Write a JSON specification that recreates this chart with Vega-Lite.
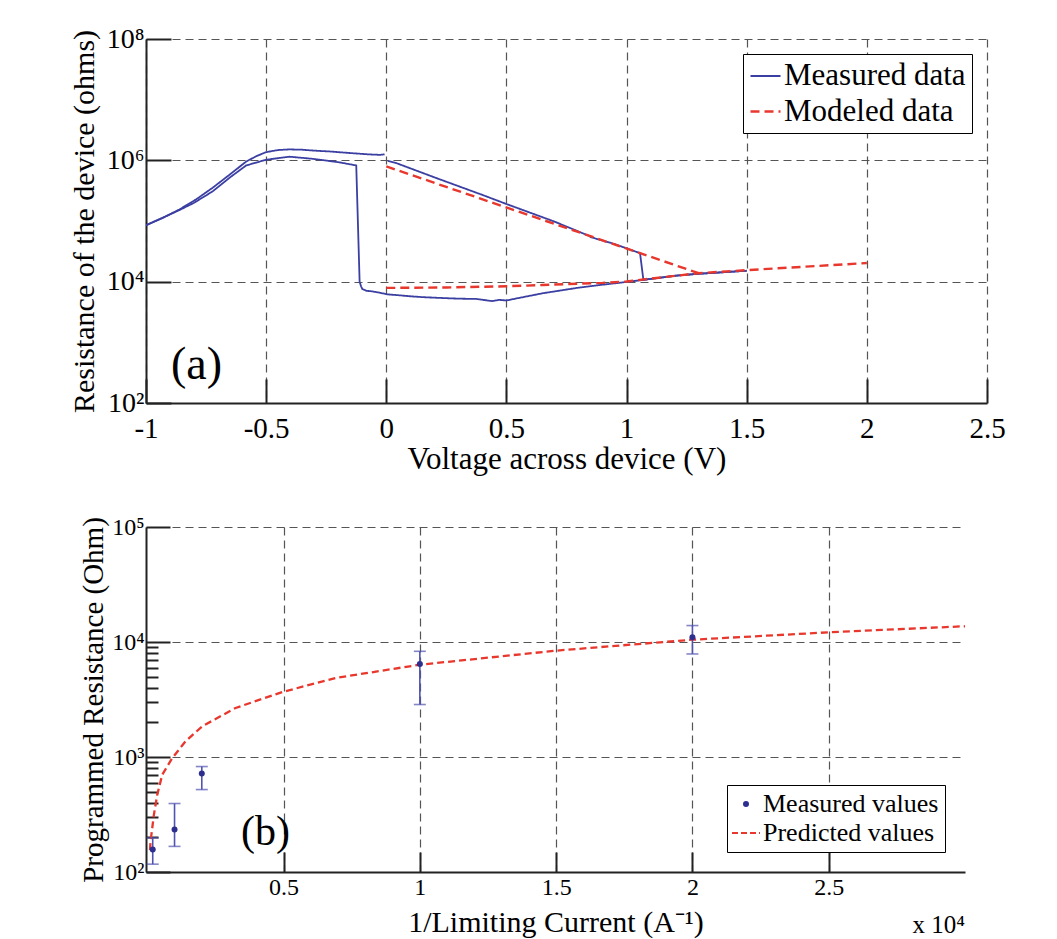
{
  "$schema": "https://vega.github.io/schema/vega-lite/v6.json",
  "background": "white",
  "padding": {"left": 69, "top": 25, "right": 5, "bottom": 5},
  "spacing": 41,
  "config": {
    "font": "Liberation Serif",
    "view": {"stroke": null},
    "axis": {
      "labelFont": "Liberation Serif",
      "titleFont": "Liberation Serif",
      "labelColor": "black",
      "titleColor": "black",
      "titleFontWeight": "normal",
      "domainColor": "#222222",
      "domainWidth": 2,
      "tickColor": "#222222",
      "tickWidth": 2,
      "grid": true,
      "gridColor": "#555555",
      "gridDash": [8, 5],
      "gridWidth": 1.2,
      "labelOverlap": false,
      "labelFlush": false
    },
    "legend": {
      "title": null,
      "labelFont": "Liberation Serif",
      "strokeColor": "black",
      "fillColor": "white",
      "labelColor": "black",
      "labelLimit": 400
    },
    "text": {"font": "Liberation Serif"}
  },
  "resolve": {
    "scale": {"color": "independent", "strokeDash": "independent", "strokeWidth": "independent"},
    "legend": {"color": "independent", "strokeDash": "independent"}
  },
  "vconcat": [
    {
      "width": 841,
      "height": 364,
      "layer": [
        {
          "data": {
            "values": [
              {"s": "Measured data", "b": "up", "i": 1, "v": 0.006, "r": 977200},
              {"s": "Measured data", "b": "up", "i": 2, "v": 0.042, "r": 899500},
              {"s": "Measured data", "b": "up", "i": 3, "v": 0.2, "r": 524800},
              {"s": "Measured data", "b": "up", "i": 4, "v": 0.4, "r": 269200},
              {"s": "Measured data", "b": "up", "i": 5, "v": 0.5, "r": 190500},
              {"s": "Measured data", "b": "up", "i": 6, "v": 0.6, "r": 136500},
              {"s": "Measured data", "b": "up", "i": 7, "v": 0.7, "r": 97720},
              {"s": "Measured data", "b": "up", "i": 8, "v": 0.847, "r": 56230},
              {"s": "Measured data", "b": "up", "i": 9, "v": 0.85, "r": 54330},
              {"s": "Measured data", "b": "up", "i": 10, "v": 0.95, "r": 41690},
              {"s": "Measured data", "b": "up", "i": 11, "v": 1.056, "r": 29510},
              {"s": "Measured data", "b": "up", "i": 12, "v": 1.07, "r": 10720},
              {"s": "Measured data", "b": "up", "i": 13, "v": 1.208, "r": 12590},
              {"s": "Measured data", "b": "up", "i": 14, "v": 1.3, "r": 13490},
              {"s": "Measured data", "b": "up", "i": 15, "v": 1.5, "r": 15140},
              {"s": "Measured data", "b": "back", "i": 1, "v": 1.5, "r": 15140},
              {"s": "Measured data", "b": "back", "i": 2, "v": 1.3, "r": 13490},
              {"s": "Measured data", "b": "back", "i": 3, "v": 1.208, "r": 12590},
              {"s": "Measured data", "b": "back", "i": 4, "v": 1.07, "r": 10720},
              {"s": "Measured data", "b": "back", "i": 5, "v": 1.0, "r": 9886},
              {"s": "Measured data", "b": "back", "i": 6, "v": 0.9, "r": 8913},
              {"s": "Measured data", "b": "back", "i": 7, "v": 0.792, "r": 7870},
              {"s": "Measured data", "b": "back", "i": 8, "v": 0.653, "r": 6457},
              {"s": "Measured data", "b": "back", "i": 9, "v": 0.55, "r": 5370},
              {"s": "Measured data", "b": "back", "i": 10, "v": 0.5, "r": 4898},
              {"s": "Measured data", "b": "back", "i": 11, "v": 0.47, "r": 5012},
              {"s": "Measured data", "b": "back", "i": 12, "v": 0.44, "r": 4786},
              {"s": "Measured data", "b": "back", "i": 13, "v": 0.375, "r": 5188},
              {"s": "Measured data", "b": "back", "i": 14, "v": 0.3, "r": 5248},
              {"s": "Measured data", "b": "back", "i": 15, "v": 0.236, "r": 5370},
              {"s": "Measured data", "b": "back", "i": 16, "v": 0.15, "r": 5559},
              {"s": "Measured data", "b": "back", "i": 17, "v": 0.097, "r": 5754},
              {"s": "Measured data", "b": "back", "i": 18, "v": 0.04, "r": 6026},
              {"s": "Measured data", "b": "back", "i": 19, "v": 0.006, "r": 6166},
              {"s": "Measured data", "b": "back", "i": 20, "v": -0.03, "r": 6607},
              {"s": "Measured data", "b": "back", "i": 21, "v": -0.06, "r": 6918},
              {"s": "Measured data", "b": "back", "i": 22, "v": -0.083, "r": 7079},
              {"s": "Measured data", "b": "back", "i": 23, "v": -0.1, "r": 7586},
              {"s": "Measured data", "b": "back", "i": 24, "v": -0.105, "r": 8395},
              {"s": "Measured data", "b": "back", "i": 25, "v": -0.111, "r": 10000},
              {"s": "Measured data", "b": "back", "i": 26, "v": -0.125, "r": 824100},
              {"s": "Measured data", "b": "back", "i": 27, "v": -0.2, "r": 933300},
              {"s": "Measured data", "b": "back", "i": 28, "v": -0.306, "r": 1059000},
              {"s": "Measured data", "b": "back", "i": 29, "v": -0.403, "r": 1148000},
              {"s": "Measured data", "b": "back", "i": 30, "v": -0.5, "r": 1023000},
              {"s": "Measured data", "b": "back", "i": 31, "v": -0.583, "r": 824100},
              {"s": "Measured data", "b": "back", "i": 32, "v": -0.65, "r": 524800},
              {"s": "Measured data", "b": "back", "i": 33, "v": -0.722, "r": 309000},
              {"s": "Measured data", "b": "back", "i": 34, "v": -0.8, "r": 199500},
              {"s": "Measured data", "b": "back", "i": 35, "v": -0.861, "r": 151400},
              {"s": "Measured data", "b": "back", "i": 36, "v": -1.0, "r": 85100},
              {"s": "Measured data", "b": "ret", "i": 1, "v": -1.0, "r": 85100},
              {"s": "Measured data", "b": "ret", "i": 2, "v": -0.93, "r": 112200},
              {"s": "Measured data", "b": "ret", "i": 3, "v": -0.861, "r": 154900},
              {"s": "Measured data", "b": "ret", "i": 4, "v": -0.79, "r": 229100},
              {"s": "Measured data", "b": "ret", "i": 5, "v": -0.722, "r": 354800},
              {"s": "Measured data", "b": "ret", "i": 6, "v": -0.65, "r": 588800},
              {"s": "Measured data", "b": "ret", "i": 7, "v": -0.583, "r": 955000},
              {"s": "Measured data", "b": "ret", "i": 8, "v": -0.54, "r": 1175000},
              {"s": "Measured data", "b": "ret", "i": 9, "v": -0.5, "r": 1365000},
              {"s": "Measured data", "b": "ret", "i": 10, "v": -0.45, "r": 1479000},
              {"s": "Measured data", "b": "ret", "i": 11, "v": -0.403, "r": 1514000},
              {"s": "Measured data", "b": "ret", "i": 12, "v": -0.35, "r": 1496000},
              {"s": "Measured data", "b": "ret", "i": 13, "v": -0.3, "r": 1445000},
              {"s": "Measured data", "b": "ret", "i": 14, "v": -0.236, "r": 1400000},
              {"s": "Measured data", "b": "ret", "i": 15, "v": -0.15, "r": 1318000},
              {"s": "Measured data", "b": "ret", "i": 16, "v": -0.08, "r": 1259000},
              {"s": "Measured data", "b": "ret", "i": 17, "v": -0.028, "r": 1230000},
              {"s": "Measured data", "b": "ret", "i": 18, "v": -0.015, "r": 1245000},
              {"s": "Measured data", "b": "ret", "i": 19, "v": -0.007, "r": 1259000},
              {"s": "Modeled data", "b": "m1", "i": 1, "v": 0.0, "r": 794300},
              {"s": "Modeled data", "b": "m1", "i": 2, "v": 1.3, "r": 13800},
              {"s": "Modeled data", "b": "m2", "i": 1, "v": 0.0, "r": 7889},
              {"s": "Modeled data", "b": "m2", "i": 2, "v": 0.25, "r": 8035},
              {"s": "Modeled data", "b": "m2", "i": 3, "v": 0.5, "r": 8395},
              {"s": "Modeled data", "b": "m2", "i": 4, "v": 0.65, "r": 8810},
              {"s": "Modeled data", "b": "m2", "i": 5, "v": 0.8, "r": 9268},
              {"s": "Modeled data", "b": "m2", "i": 6, "v": 0.9, "r": 9550},
              {"s": "Modeled data", "b": "m2", "i": 7, "v": 1.0, "r": 10070},
              {"s": "Modeled data", "b": "m2", "i": 8, "v": 1.1, "r": 11220},
              {"s": "Modeled data", "b": "m2", "i": 9, "v": 1.3, "r": 13800},
              {"s": "Modeled data", "b": "m2", "i": 10, "v": 1.5, "r": 15490},
              {"s": "Modeled data", "b": "m2", "i": 11, "v": 2.0, "r": 20280}
            ]
          },
          "mark": {"type": "line", "clip": true},
          "encoding": {
            "x": {
              "field": "v",
              "type": "quantitative",
              "scale": {"domain": [-1, 2.5], "nice": false, "zero": false},
              "axis": {
                "title": "Voltage across device (V)",
                "values": [-1, -0.5, 0, 0.5, 1, 1.5, 2, 2.5],
                "labelExpr": "'' + datum.value",
                "labelFontSize": 29,
                "titleFontSize": 31,
                "tickSize": -24,
                "labelPadding": 35,
                "titlePadding": 1
              }
            },
            "y": {
              "field": "r",
              "type": "quantitative",
              "scale": {"type": "log", "domain": [100, 100000000], "nice": false},
              "axis": {
                "title": "Resistance of the device (ohms)",
                "values": [100, 10000, 1000000, 100000000],
                "labelExpr": "'10' + ['⁰','¹','²','³','⁴','⁵','⁶','⁷','⁸'][round(log(datum.value) / LN10)]",
                "labelFontSize": 28,
                "titleFontSize": 30,
                "tickSize": -25,
                "labelPadding": 27,
                "titlePadding": 7
              }
            },
            "detail": {"field": "b"},
            "order": {"field": "i", "type": "quantitative"},
            "color": {
              "field": "s",
              "type": "nominal",
              "scale": {"domain": ["Measured data", "Modeled data"], "range": ["#3b3fa2", "#e8372d"]},
              "legend": {
                "orient": "top-right",
                "offset": 15,
                "padding": 6,
                "symbolType": "stroke",
                "symbolSize": 900,
                "symbolStrokeWidth": 2,
                "labelFontSize": 31,
                "labelOffset": 2,
                "rowPadding": 4
              }
            },
            "strokeDash": {
              "field": "s",
              "type": "nominal",
              "scale": {"domain": ["Measured data", "Modeled data"], "range": [[1, 0], [9, 5]]},
              "legend": {
                "orient": "top-right",
                "offset": 15,
                "padding": 6,
                "symbolType": "stroke",
                "symbolSize": 900,
                "symbolStrokeWidth": 2,
                "labelFontSize": 31,
                "labelOffset": 2,
                "rowPadding": 4
              }
            },
            "strokeWidth": {
              "field": "s",
              "type": "nominal",
              "scale": {"domain": ["Measured data", "Modeled data"], "range": [1.8, 2.4]},
              "legend": null
            }
          }
        },
        {
          "data": {"values": [{"label": "(a)", "v": -0.79, "r": 427}]},
          "mark": {"type": "text", "fontSize": 46, "align": "center", "baseline": "middle", "color": "black"},
          "encoding": {
            "x": {"field": "v", "type": "quantitative"},
            "y": {"field": "r", "type": "quantitative"},
            "text": {"field": "label"}
          }
        }
      ]
    },
    {
      "width": 819,
      "height": 345,
      "resolve": {"axis": {"y": "independent"}},
      "layer": [
        {
          "data": {
            "values": [
              {"s": "Predicted values", "x": 100, "r": 155},
              {"s": "Predicted values", "x": 121, "r": 185},
              {"s": "Predicted values", "x": 243, "r": 315},
              {"s": "Predicted values", "x": 367, "r": 471},
              {"s": "Predicted values", "x": 550, "r": 703},
              {"s": "Predicted values", "x": 917, "r": 980},
              {"s": "Predicted values", "x": 1405, "r": 1370},
              {"s": "Predicted values", "x": 2018, "r": 1850},
              {"s": "Predicted values", "x": 3240, "r": 2670},
              {"s": "Predicted values", "x": 4950, "r": 3670},
              {"s": "Predicted values", "x": 6900, "r": 4860},
              {"s": "Predicted values", "x": 10000, "r": 6350},
              {"s": "Predicted values", "x": 15000, "r": 8410},
              {"s": "Predicted values", "x": 20000, "r": 10470},
              {"s": "Predicted values", "x": 25000, "r": 12140},
              {"s": "Predicted values", "x": 30000, "r": 13710}
            ]
          },
          "mark": {"type": "line", "strokeDash": [7, 4], "strokeWidth": 2.3, "clip": true},
          "encoding": {
            "x": {
              "field": "x",
              "type": "quantitative",
              "scale": {"domain": [-47, 30000], "nice": false, "zero": false},
              "axis": {
                "title": "1/Limiting Current (A⁻¹)",
                "values": [5000, 10000, 15000, 20000, 25000],
                "labelExpr": "'' + datum.value / 10000",
                "labelFontSize": 24,
                "titleFontSize": 30,
                "tickSize": -20,
                "labelPadding": 23,
                "titlePadding": 8
              }
            },
            "y": {
              "field": "r",
              "type": "quantitative",
              "scale": {"type": "log", "domain": [100, 100000], "nice": false},
              "axis": {
                "orient": "left",
                "title": "Programmed Resistance (Ohm)",
                "values": [100, 1000, 10000, 100000],
                "labelExpr": "'10' + ['⁰','¹','²','³','⁴','⁵'][round(log(datum.value) / LN10)]",
                "labelFontSize": 24,
                "titleFontSize": 29,
                "tickSize": -24,
                "labelPadding": 26,
                "titlePadding": 3
              }
            },
            "color": {
              "field": "s",
              "type": "nominal",
              "scale": {"domain": ["Measured values", "Predicted values"], "range": ["#2d2f8f", "#e8372d"]},
              "legend": {
                "orient": "bottom-right",
                "offset": 20,
                "padding": 6,
                "symbolType": "stroke",
                "symbolSize": 784,
                "symbolStrokeWidth": 2,
                "labelFontSize": 26,
                "labelOffset": 4,
                "rowPadding": 3,
                "encode": {
                  "symbols": {
                    "update": {
                      "shape": {"signal": "datum.value == 'Measured values' ? 'circle' : 'stroke'"},
                      "size": {"signal": "datum.value == 'Measured values' ? 36 : 784"},
                      "strokeDash": {"signal": "datum.value == 'Measured values' ? [1, 0] : [6, 3]"},
                      "fill": {"signal": "datum.value == 'Measured values' ? '#2d2f8f' : 'transparent'"},
                      "stroke": {"signal": "datum.value == 'Measured values' ? '#2d2f8f' : '#e8372d'"},
                      "strokeWidth": {"signal": "datum.value == 'Measured values' ? 0 : 2"}
                    }
                  }
                }
              }
            }
          }
        },
        {
          "data": {
            "values": [
              {"s": "Measured values", "x": 200, "r": 157, "lo": 117, "hi": 198},
              {"s": "Measured values", "x": 1000, "r": 234, "lo": 167, "hi": 394},
              {"s": "Measured values", "x": 2000, "r": 718, "lo": 521, "hi": 826},
              {"s": "Measured values", "x": 10000, "r": 6440, "lo": 2860, "hi": 8300},
              {"s": "Measured values", "x": 20000, "r": 10990, "lo": 7870, "hi": 13900}
            ]
          },
          "layer": [
            {
              "mark": {"type": "errorbar", "ticks": true, "size": 12, "thickness": 1.6, "color": "#5053b0", "clip": true},
              "encoding": {
                "x": {"field": "x", "type": "quantitative"},
                "y": {"field": "lo", "type": "quantitative", "axis": null},
                "y2": {"field": "hi"}
              }
            },
            {
              "mark": {"type": "point", "filled": true, "size": 36, "opacity": 1},
              "encoding": {
                "x": {"field": "x", "type": "quantitative"},
                "y": {"field": "r", "type": "quantitative", "axis": null},
                "color": {"field": "s", "type": "nominal"}
              }
            }
          ]
        },
        {
          "data": {"values": [{"label": "(b)", "x": 4340, "r": 221}]},
          "mark": {"type": "text", "fontSize": 42, "align": "center", "baseline": "middle", "color": "black"},
          "encoding": {
            "x": {"field": "x", "type": "quantitative"},
            "y": {
              "field": "r",
              "type": "quantitative",
              "axis": {
                "orient": "left",
                "title": null,
                "values": [200, 300, 400, 500, 600, 700, 800, 900, 2000, 3000, 4000, 5000, 6000, 7000, 8000, 9000],
                "labels": false,
                "grid": false,
                "domain": false,
                "tickSize": -12
              }
            },
            "text": {"field": "label"}
          }
        },
        {
          "data": {"values": [{"label": "x 10⁴", "x": 30000, "r": 100}]},
          "mark": {"type": "text", "fontSize": 25, "align": "right", "baseline": "alphabetic", "dy": 61, "color": "black"},
          "encoding": {
            "x": {"field": "x", "type": "quantitative"},
            "y": {"field": "r", "type": "quantitative", "axis": null},
            "text": {"field": "label"}
          }
        }
      ]
    }
  ]
}
